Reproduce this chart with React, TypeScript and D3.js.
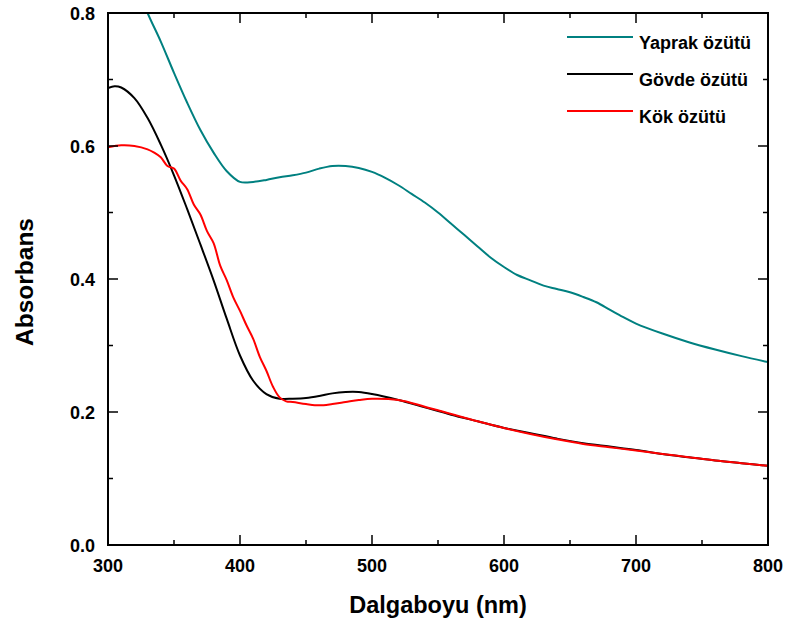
import React, { useRef, useEffect } from "react";
import * as d3 from "d3";

// wavelengths (nm) and absorbance readings
const yaprakNm = [300, 310, 320, 330, 340, 350, 360, 370, 380, 390, 400, 410, 420, 430, 440, 450, 460, 470, 480, 490, 500, 510, 520, 530, 540, 550, 560, 570, 580, 590, 600, 610, 620, 630, 640, 650, 660, 670, 680, 690, 700, 720, 740, 760, 780, 800];
const yaprakAbs = [0.95, 0.9, 0.85, 0.8, 0.757, 0.71, 0.665, 0.624, 0.59, 0.562, 0.546, 0.546, 0.549, 0.553, 0.556, 0.56, 0.566, 0.57, 0.57, 0.567, 0.561, 0.552, 0.541, 0.528, 0.515, 0.5, 0.483, 0.466, 0.449, 0.432, 0.418, 0.406, 0.398, 0.39, 0.385, 0.38, 0.373, 0.365, 0.354, 0.343, 0.333, 0.318, 0.305, 0.294, 0.284, 0.275];

const govdeNm = [300, 305, 310, 320, 330, 340, 350, 360, 370, 380, 390, 400, 410, 420, 430, 440, 450, 460, 470, 480, 490, 500, 520, 540, 560, 580, 600, 620, 640, 660, 680, 700, 720, 740, 760, 780, 800];
const govdeAbs = [0.687, 0.69, 0.688, 0.672, 0.642, 0.602, 0.556, 0.505, 0.452, 0.398, 0.34, 0.285, 0.247, 0.227, 0.22, 0.22, 0.221, 0.224, 0.228, 0.23, 0.23, 0.227, 0.218, 0.207, 0.196, 0.186, 0.176, 0.168, 0.16, 0.153, 0.148, 0.143, 0.137, 0.132, 0.127, 0.123, 0.119];

const kokNm = [300, 310, 320, 330, 335, 340, 345, 350, 355, 360, 365, 370, 375, 380, 385, 390, 395, 400, 405, 410, 415, 420, 425, 430, 435, 440, 450, 460, 470, 480, 490, 500, 520, 540, 560, 580, 600, 620, 640, 660, 680, 700, 720, 740, 760, 780, 800];
const kokAbs = [0.598, 0.601, 0.6, 0.595, 0.59, 0.583, 0.57, 0.566, 0.548, 0.535, 0.512, 0.497, 0.472, 0.454, 0.42, 0.398, 0.372, 0.352, 0.33, 0.31, 0.283, 0.262, 0.238, 0.222, 0.216, 0.215, 0.212, 0.21, 0.212, 0.215, 0.218, 0.22, 0.218, 0.208, 0.197, 0.186, 0.176, 0.167, 0.159, 0.152, 0.147, 0.142, 0.137, 0.132, 0.127, 0.123, 0.119];

const seriesNames = ["Yaprak özütü", "Gövde özütü", "Kök özütü"];
const seriesColors = ["#008080", "#000000", "#ff0000"];

const xTicks = [300, 400, 500, 600, 700, 800];
const xMinor = [350, 450, 550, 650, 750];
const yTicks = [0, 0.2, 0.4, 0.6, 0.8];
const yMinor = [0.1, 0.3, 0.5, 0.7];

function App() {
  const svgRef = useRef(null);

  useEffect(() => {
    document.body.style.margin = "0";
    d3.select(svgRef.current).selectAll("*").remove();

    const width = 787;
    const height = 625;
    const left = 108;
    const top = 13;
    const right = 768;
    const bottom = 545;

    const svg = d3.select(svgRef.current)
      .attr("width", width)
      .attr("height", height)
      .style("display", "block")
      .style("font-family", "'Liberation Sans', Arial, sans-serif")
      .style("font-weight", "bold");

    const x = d3.scaleLinear().domain([300, 800]).range([left, right]);
    const y = d3.scaleLinear().domain([0, 0.8]).range([bottom, top]);

    svg.append("clipPath")
      .attr("id", "plot-clip")
      .append("rect")
      .attr("x", left)
      .attr("y", top)
      .attr("width", right - left)
      .attr("height", bottom - top);

    const line = d3.line()
      .x(d => x(d[0]))
      .y(d => y(d[1]))
      .curve(d3.curveCatmullRom);

    const all = [
      d3.zip(yaprakNm, yaprakAbs),
      d3.zip(govdeNm, govdeAbs),
      d3.zip(kokNm, kokAbs),
    ];

    svg.append("g")
      .attr("clip-path", "url(#plot-clip)")
      .selectAll("path")
      .data(all)
      .join("path")
      .attr("d", d => line(d))
      .attr("fill", "none")
      .attr("stroke", (d, i) => seriesColors[i])
      .attr("stroke-width", 2);

    // frame
    svg.append("rect")
      .attr("x", left)
      .attr("y", top)
      .attr("width", right - left)
      .attr("height", bottom - top)
      .attr("fill", "none")
      .attr("stroke", "#000")
      .attr("stroke-width", 2);

    // ticks, inward on all sides
    const tickG = svg.append("g").attr("stroke", "#000").attr("stroke-width", 1.5);
    const xt = [...xTicks.map(v => [v, 10]), ...xMinor.map(v => [v, 5])];
    xt.forEach(([v, len]) => {
      tickG.append("line").attr("x1", x(v)).attr("x2", x(v)).attr("y1", bottom).attr("y2", bottom - len);
      tickG.append("line").attr("x1", x(v)).attr("x2", x(v)).attr("y1", top).attr("y2", top + len);
    });
    const yt = [...yTicks.map(v => [v, 10]), ...yMinor.map(v => [v, 5])];
    yt.forEach(([v, len]) => {
      tickG.append("line").attr("y1", y(v)).attr("y2", y(v)).attr("x1", left).attr("x2", left + len);
      tickG.append("line").attr("y1", y(v)).attr("y2", y(v)).attr("x1", right).attr("x2", right - len);
    });

    // tick labels
    svg.append("g")
      .selectAll("text")
      .data(xTicks)
      .join("text")
      .attr("x", d => x(d))
      .attr("y", bottom + 27)
      .attr("text-anchor", "middle")
      .attr("font-size", 18)
      .text(d => d);

    svg.append("g")
      .selectAll("text")
      .data(yTicks)
      .join("text")
      .attr("x", left - 13)
      .attr("y", d => y(d) + 7)
      .attr("text-anchor", "end")
      .attr("font-size", 18)
      .text(d => d3.format(".1f")(d));

    // axis titles
    svg.append("text")
      .attr("x", (left + right) / 2)
      .attr("y", 613)
      .attr("text-anchor", "middle")
      .attr("font-size", 23.5)
      .text("Dalgaboyu (nm)");

    svg.append("text")
      .attr("transform", `translate(33,282) rotate(-90)`)
      .attr("text-anchor", "middle")
      .attr("font-size", 24.5)
      .text("Absorbans");

    // legend
    const legend = svg.append("g").attr("transform", "translate(567,37)");
    seriesNames.forEach((name, i) => {
      const g = legend.append("g").attr("transform", `translate(0,${i * 37})`);
      g.append("line")
        .attr("x1", 0).attr("x2", 66)
        .attr("y1", 0).attr("y2", 0)
        .attr("stroke", seriesColors[i])
        .attr("stroke-width", 2);
      g.append("text")
        .attr("x", 72)
        .attr("y", 12)
        .attr("font-size", 18)
        .text(name);
    });
  }, []);

  return (
    <div>
      <svg ref={svgRef}></svg>
    </div>
  );
}

export default App;
